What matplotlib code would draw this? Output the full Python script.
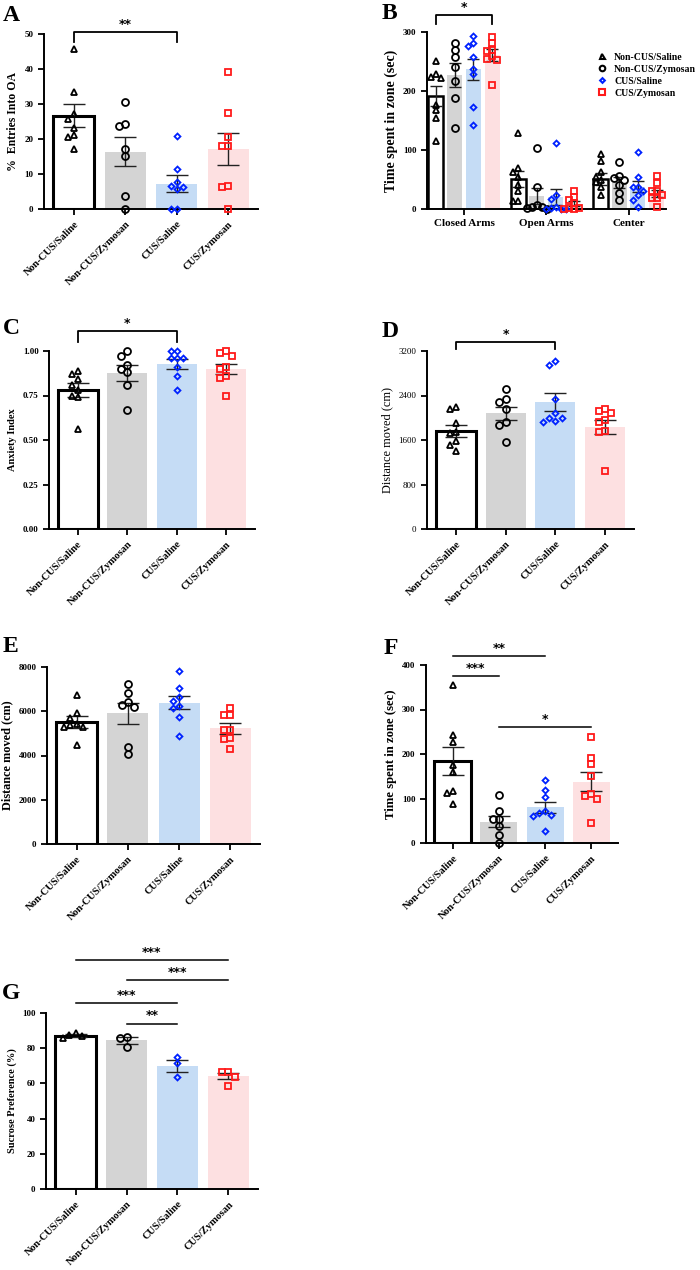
import matplotlib
matplotlib.use('Agg')
import matplotlib.pyplot as plt
from matplotlib.lines import Line2D

plt.rcParams['font.family'] = ['Liberation Serif', 'DejaVu Serif']
plt.rcParams['axes.linewidth'] = 1.4

# Groups and styles
groups = ['Non-CUS/Saline', 'Non-CUS/Zymosan', 'CUS/Saline', 'CUS/Zymosan']
zones = ['Closed Arms', 'Open Arms', 'Center']
bar_colors = ['white', '#d4d4d4', '#c5dcf5', '#fde0e1']
mk = ['^', 'o', 'D', 's']
mk_color = ['black', 'black', '#0022ff', '#ff1a1a']
mk_size = [4.5, 5, 3.0, 4.8]

# A: % entries into open arms
a_mean = [26.7, 16.4, 7.2, 17.1]
a_sem = [3.2, 4.2, 2.4, 4.5]
a_pts = [[45.7, 33.3, 27.1, 25.7, 23.1, 21.2, 20.7, 17.1],
         [30.6, 24.4, 23.8, 17.2, 15.2, 3.6, 0.0],
         [20.8, 11.3, 7.7, 6.5, 6.3, 5.6, 0.0, 0.0],
         [39.2, 27.4, 20.7, 18.1, 18.1, 6.7, 6.2, 0.0]]

# B: time spent in zone, per zone
b_mean = [[191, 227, 237, 261],
          [51, 22, 20, 9],
          [51, 45, 38, 27]]
b_sem = [[17, 20, 18, 10],
         [13, 14, 14, 4],
         [10, 9, 10, 6]]
b_pts = [[[251, 228, 223, 222, 177, 168, 154, 116],
          [282, 270, 258, 240, 217, 188, 137],
          [294, 281, 277, 258, 238, 228, 173, 143],
          [292, 281, 269, 268, 259, 254, 253, 211]],
         [[128, 69, 63, 55, 40, 30, 13, 13],
          [103, 37, 6, 4, 3, 1, 0],
          [112, 24, 17, 3, 1, 0, 0, 0],
          [30, 21, 16, 10, 2, 2, 0, 0]],
         [[94, 82, 62, 55, 49, 45, 38, 24],
          [79, 56, 53, 50, 41, 27, 16],
          [97, 55, 38, 37, 30, 24, 16, 4],
          [56, 44, 31, 31, 24, 19, 19, 3]]]

# C: anxiety index
c_mean = [0.78, 0.877, 0.928, 0.90]
c_sem = [0.038, 0.043, 0.028, 0.028]
c_pts = [[0.89, 0.87, 0.84, 0.81, 0.78, 0.75, 0.74, 0.56],
         [1.0, 0.97, 0.92, 0.90, 0.88, 0.81, 0.67],
         [1.0, 1.0, 0.96, 0.96, 0.96, 0.91, 0.86, 0.78],
         [1.0, 0.99, 0.97, 0.91, 0.90, 0.86, 0.85, 0.75]]

# D: distance moved (EPM)
d_mean = [1770, 2080, 2280, 1835]
d_sem = [108, 117, 156, 131]
d_pts = [[2199, 2157, 1900, 1750, 1732, 1588, 1510, 1402],
         [2522, 2331, 2289, 2151, 1929, 1869, 1558],
         [3020, 2948, 2337, 2091, 2001, 2001, 1947, 1929],
         [2157, 2121, 2091, 1959, 1917, 1761, 1750, 1049]]

# E: distance moved (OFT)
e_mean = [5510, 5900, 6390, 5230]
e_sem = [256, 467, 308, 241]
e_pts = [[6734, 5936, 5710, 5440, 5363, 5290, 5288, 4460],
         [7217, 6825, 6418, 6267, 6192, 4384, 4053],
         [7834, 7066, 6659, 6463, 6237, 6162, 5740, 4896],
         [6147, 5815, 5815, 5137, 5137, 4806, 4731, 4309]]

# F: time spent in center zone
f_mean = [184, 48, 80, 138]
f_sem = [31, 13, 13, 22]
f_pts = [[356, 243, 226, 175, 160, 116, 112, 88],
         [107, 71, 54, 54, 39, 17, 1],
         [141, 119, 104, 73, 67, 62, 61, 28],
         [238, 191, 177, 150, 110, 105, 99, 45]]

# G: sucrose preference
g_mean = [87.2, 84.5, 70.0, 64.1]
g_sem = [1.0, 1.9, 3.5, 1.7]
g_pts = [[88.8, 87.5, 87.1, 85.6],
         [86.6, 85.6, 80.9],
         [75.2, 71.5, 63.5],
         [66.7, 66.7, 63.9, 58.8]]

# significance: (group1, group2, y, label)
a_sig = [(0, 2, 50.6, '**')]
c_sig = [(0, 2, 1.112, '*')]
d_sig = [(0, 2, 3367, '*')]
f_sig = [(0, 2, 420, '**'), (0, 1, 376, '***'), (1, 3, 261, '*')]
g_sig = [(0, 3, 130, '***'), (1, 3, 118.7, '***'), (0, 2, 105.5, '***'), (1, 2, 94, '**')]


def swarm_x(ax, x0, ys, gap):
    placed, out = [], []
    for y in ys:
        px0, py = ax.transData.transform((x0, y))
        px = px0
        for k in (0, -1, 1, -2, 2, -3, 3):
            px = px0 + k * gap
            if all((px - qx) ** 2 + (py - qy) ** 2 >= (gap * 0.95) ** 2 for qx, qy in placed):
                break
        placed.append((px, py))
        out.append(ax.transData.inverted().transform((px, py))[0])
    return out


def draw_group(ax, x, i, mean, sem, pts, width, capsize, gap, edge_lw):
    if i == 0:
        ax.bar(x, mean, width, color='white', edgecolor='black', linewidth=edge_lw, zorder=1)
    else:
        ax.bar(x, mean, width, color=bar_colors[i], linewidth=0, zorder=1)
    ax.errorbar(x, mean, yerr=sem, color='#222222', lw=1, capsize=capsize, capthick=1, zorder=3)
    xs = swarm_x(ax, x, pts, gap)
    ax.plot(xs, pts, ls='none', marker=mk[i], mfc='none', mec=mk_color[i], ms=mk_size[i],
            mew=1.3, zorder=4, clip_on=False)


def style(ax, ylim, yticks, ylabel, lab_size, lab_bold=True, tick_bold=True, fmt=None):
    ax.set_ylim(*ylim)
    ax.set_yticks(yticks)
    labels = [fmt % t if fmt else str(t) for t in yticks]
    ax.set_yticklabels(labels, fontsize=6.5, fontweight='bold' if tick_bold else 'normal')
    ax.set_ylabel(ylabel, fontsize=lab_size, fontweight='bold' if lab_bold else 'normal', labelpad=4)
    ax.spines['top'].set_visible(False)
    ax.spines['right'].set_visible(False)
    ax.tick_params(direction='out', length=4, width=1.3)


def four_bar(ax, mean, sem, pts, ylim, yticks, ylabel, lab_size, lab_bold=True, tick_bold=True, fmt=None):
    ax.set_xlim(-0.58, 3.58)
    style(ax, ylim, yticks, ylabel, lab_size, lab_bold, tick_bold, fmt)
    for i in range(4):
        draw_group(ax, i, i, mean[i], sem[i], pts[i], 0.8, 8, 6.2, 2.2)
    ax.set_xticks(range(4))
    ax.set_xticklabels(groups, rotation=45, ha='right', rotation_mode='anchor',
                       fontsize=7.5, fontweight='bold')


def sig(ax, sigs, drop=None):
    for x1, x2, y, label in sigs:
        if drop:
            ax.plot([x1, x1, x2, x2], [y - drop, y, y, y - drop], color='black', lw=1.3, clip_on=False)
        else:
            ax.plot([x1, x2], [y, y], color='black', lw=1.1, clip_on=False)
        ax.annotate(label, xy=((x1 + x2) / 2, y), xytext=(0, 5.5), textcoords='offset points',
                    ha='center', va='center', fontsize=9, fontweight='bold',
                    family='DejaVu Sans', annotation_clip=False)


W, H = 700, 1270
fig = plt.figure(figsize=(7, 12.7), dpi=100)


def box(l, r, t, b):
    return fig.add_axes([l / W, 1 - b / H, (r - l) / W, (b - t) / H])


# A
ax = box(44, 258, 34, 209)
four_bar(ax, a_mean, a_sem, a_pts, (0, 50), [0, 10, 20, 30, 40, 50], '%  Entries Into OA', 8.5)
sig(ax, a_sig, drop=3)

# B
ax = box(427, 666, 32, 209)
ax.set_xlim(-0.48, 12.3)
style(ax, (0, 300), [0, 100, 200, 300], 'Time spent in zone (sec)', 10)
for z in range(3):
    for i in range(4):
        draw_group(ax, z * 4.4 + i, i, b_mean[z][i], b_sem[z][i], b_pts[z][i], 0.8, 4, 5.0, 1.8)
ax.set_xticks([1.5, 5.9, 10.3])
ax.set_xticklabels(zones, fontsize=8, fontweight='bold')
ax.plot([0, 0, 3, 3], [314, 329, 329, 314], color='black', lw=1.3, clip_on=False)
ax.annotate('*', xy=(1.5, 329), xytext=(0, 5.5), textcoords='offset points', ha='center',
            va='center', fontsize=9, fontweight='bold', family='DejaVu Sans', annotation_clip=False)
handles = [Line2D([], [], ls='none', marker=mk[i], mfc='none', mec=mk_color[i],
                  ms=mk_size[i] * 0.8, mew=1.5) for i in range(4)]
fig.legend(handles, groups, loc='upper left', bbox_to_anchor=(588 / W, 1 - 44 / H), frameon=False,
           handlelength=1.0, handletextpad=0.8, labelspacing=0.3,
           prop={'size': 7, 'weight': 'bold'})

# C
ax = box(49, 255, 351, 529)
four_bar(ax, c_mean, c_sem, c_pts, (0, 1), [0, 0.25, 0.5, 0.75, 1.0], 'Anxiety Index', 7.5, fmt='%.2f')
sig(ax, c_sig, drop=0.06)

# D
ax = box(427, 634, 351, 529)
four_bar(ax, d_mean, d_sem, d_pts, (0, 3200), [0, 800, 1600, 2400, 3200], 'Distance moved (cm)', 8.8,
         lab_bold=False, tick_bold=False)
sig(ax, d_sig, drop=130)

# E
ax = box(47, 260, 667, 844)
four_bar(ax, e_mean, e_sem, e_pts, (0, 8000), [0, 2000, 4000, 6000, 8000], 'Distance moved (cm)', 8.8)

# F
ax = box(426, 618, 665, 843)
four_bar(ax, f_mean, f_sem, f_pts, (0, 400), [0, 100, 200, 300, 400], 'Time spent in zone (sec)', 9.2)
sig(ax, f_sig)

# G
ax = box(46, 258, 1013, 1189)
four_bar(ax, g_mean, g_sem, g_pts, (0, 100), [0, 20, 40, 60, 80, 100], 'Sucrose Preference (%)', 7.5)
sig(ax, g_sig)

# panel letters
for letter, x, y in [('A', 3, 5), ('B', 382, 3), ('C', 3, 318), ('D', 382, 321),
                     ('E', 3, 636), ('F', 384, 638), ('G', 2, 983)]:
    fig.text(x / W, 1 - y / H, letter, fontsize=17, fontweight='bold', va='top', ha='left')

fig.savefig('out.png', dpi=100)
